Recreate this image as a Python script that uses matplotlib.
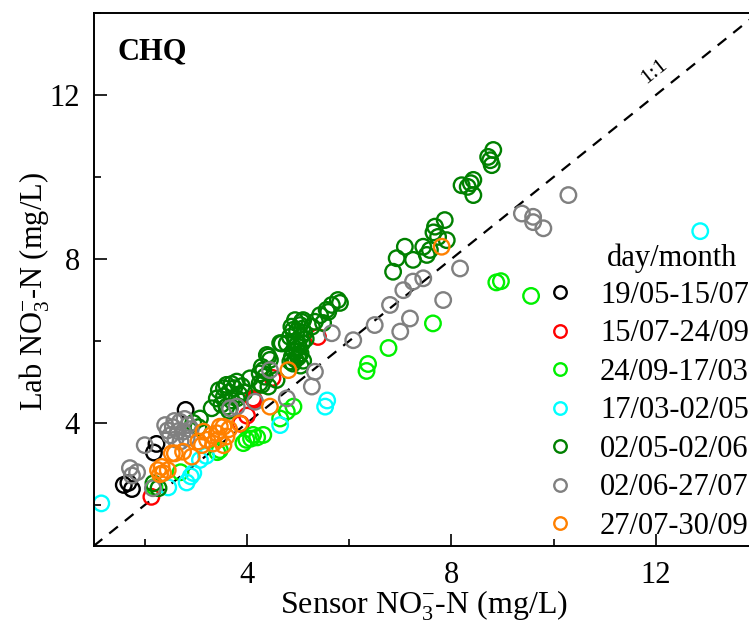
import matplotlib
matplotlib.use("Agg")
import matplotlib.pyplot as plt
from matplotlib.ticker import MultipleLocator
from matplotlib.lines import Line2D

plt.rcParams['font.family'] = ['Liberation Serif', 'DejaVu Serif']
plt.rcParams['mathtext.fontset'] = 'custom'
plt.rcParams['mathtext.rm'] = 'Liberation Serif'
plt.rcParams['mathtext.it'] = 'Liberation Serif:italic'
plt.rcParams['mathtext.bf'] = 'Liberation Serif:bold'

labels = ["19/05-15/07", "15/07-24/09", "24/09-17/03", "17/03-02/05",
          "02/05-02/06", "02/06-27/07", "27/07-30/09"]
colors = ["#000000", "#FF0000", "#00F000", "#00FFFF", "#008000", "#808080", "#FF8000"]

black_x = [2.80, 2.23, 2.18, 1.68, 1.75, 1.59]
black_y = [4.32, 3.49, 3.28, 2.54, 2.39, 2.49]

red_x = [2.13, 3.88, 4.00, 4.14, 4.50, 5.39, 4.12]
red_y = [2.20, 3.98, 4.18, 4.56, 5.10, 6.10, 4.60]

lime_x = [8.88, 8.97, 9.56, 7.64, 6.77, 6.37, 6.34, 4.91, 4.78, 4.65, 4.32, 4.12,
          3.99, 3.93, 4.08, 3.42, 2.70, 2.19, 3.47, 4.20]
lime_y = [7.43, 7.46, 7.10, 6.43, 5.83, 5.44, 5.27, 4.40, 4.28, 4.11, 3.71, 3.71,
          3.59, 3.51, 3.62, 3.29, 2.80, 2.44, 3.34, 3.65]

cyan_x = [12.87, 1.15, 2.46, 2.82, 2.90, 2.95, 3.08, 3.20, 4.65, 5.53, 5.57]
cyan_y = [8.68, 2.04, 2.43, 2.55, 2.70, 2.78, 3.10, 3.20, 3.95, 4.40, 4.55]

dgreen_x = [8.82, 8.76, 8.72, 8.79, 8.20, 8.43, 8.43, 8.32, 8.38,
            7.87, 7.68, 7.91, 7.74, 7.45, 7.58, 7.52, 7.25, 7.09, 6.93, 6.86, 7.65,
            5.78, 5.66, 5.56, 5.43, 5.33, 5.07, 4.94, 4.87, 5.82, 5.59, 5.49, 5.27,
            5.10, 5.04, 4.90, 4.84, 4.78, 4.68, 4.42, 4.29, 4.35, 4.29, 4.42, 4.65, 4.39,
            4.90, 4.95, 5.00, 5.05, 4.92, 5.02, 5.08, 4.95, 5.05, 5.12, 4.98, 5.05,
            5.10, 4.88, 5.00, 5.15, 4.97, 5.08, 4.85, 5.02,
            3.41, 3.60, 3.80, 4.06, 4.25, 3.31, 3.08, 3.50, 3.55, 3.65, 3.70, 3.75,
            3.85, 3.60, 3.45, 3.90, 3.95, 3.70, 3.55, 3.80, 3.65,
            2.17, 2.27, 2.95, 3.05, 4.32, 4.45, 4.25, 4.58]
dgreen_y = [10.66, 10.41, 10.49, 10.29, 9.80, 9.93, 9.56, 9.76, 9.85,
            8.95, 8.79, 8.46, 8.54, 8.30, 8.22, 8.10, 7.98, 8.30, 8.02, 7.69, 8.65,
            7.00, 6.88, 6.76, 6.63, 6.47, 6.47, 6.51, 6.35, 6.93, 6.71, 6.44, 6.35,
            6.51, 6.39, 6.27, 6.10, 5.94, 5.94, 5.62, 5.37, 5.13, 4.93, 4.89, 5.95, 5.66,
            5.45, 5.55, 5.60, 5.70, 5.75, 5.85, 5.95, 6.00, 6.10, 6.20, 6.25, 5.40,
            5.52, 5.62, 5.95, 6.05, 5.80, 6.30, 5.50, 5.65,
            4.60, 4.93, 5.01, 5.09, 5.21, 4.36, 4.11, 4.45, 4.65, 4.75, 4.55, 4.85,
            4.70, 4.40, 4.80, 4.90, 4.75, 4.95, 4.85, 4.60, 4.30,
            2.53, 2.41, 4.00, 3.90, 5.29, 5.54, 4.97, 5.05]

grey_x = [10.29, 9.38, 9.60, 9.60, 9.80, 8.17, 7.84, 7.45, 7.25, 7.06, 6.80, 7.19,
          7.00, 6.50, 6.08, 5.66, 5.33, 5.27, 4.78, 4.45, 4.16, 3.67, 3.80,
          2.00, 1.71, 1.85, 1.75, 2.16,
          2.40, 2.55, 2.65, 2.75, 2.82, 2.50, 2.69, 2.85, 2.60, 2.70, 2.45, 2.90,
          2.78, 2.58]
grey_y = [9.56, 9.11, 9.03, 8.90, 8.75, 7.77, 7.00, 7.53, 7.45, 7.24, 6.88, 6.55,
          6.23, 6.39, 6.02, 6.19, 5.25, 4.89, 4.60, 5.29, 4.52, 4.36, 4.40,
          3.46, 2.90, 2.80, 2.72, 2.41,
          3.95, 3.90, 3.80, 3.79, 3.63, 3.70, 4.03, 3.95, 3.60, 3.55, 3.82, 3.85,
          4.10, 4.05]

orange_x = [7.81, 4.81, 4.45, 3.86, 3.54, 3.41, 3.15, 3.22, 3.12, 3.54, 2.92, 2.53,
            2.33, 2.26, 2.45, 2.36, 3.30, 3.45, 3.05, 3.65, 2.30, 3.47, 3.60, 3.34,
            2.75, 2.59]
orange_y = [8.30, 5.29, 4.40, 3.99, 3.91, 3.75, 3.79, 3.59, 3.46, 3.46, 3.18, 3.26,
            2.93, 2.85, 2.85, 2.78, 3.70, 3.60, 3.55, 3.85, 2.75, 3.91, 3.67, 3.50,
            3.30, 3.26]

series_x = [black_x, red_x, lime_x, cyan_x, dgreen_x, grey_x, orange_x]
series_y = [black_y, red_y, lime_y, cyan_y, dgreen_y, grey_y, orange_y]

fig = plt.figure(figsize=(7.49, 6.30), dpi=100)
ax = fig.add_axes([0.125, 0.1333, 0.887, 0.846])

ax.plot([1, 14], [1, 14], color='black', lw=1.6, linestyle=(0, (5, 4)), zorder=1)

for xs, ys, c in zip(series_x, series_y, colors):
    ax.scatter(xs, ys, s=125, facecolors='none', edgecolors=c, linewidths=1.7, zorder=2)

ax.set_xlim(1, 14)
ax.set_ylim(1, 14)
ax.xaxis.set_major_locator(MultipleLocator(4))
ax.yaxis.set_major_locator(MultipleLocator(4))
ax.xaxis.set_minor_locator(MultipleLocator(2))
ax.yaxis.set_minor_locator(MultipleLocator(2))
ax.tick_params(which='major', direction='in', length=9, width=1.2, labelsize=22)
ax.tick_params(which='minor', direction='in', length=5, width=1.2)
ax.tick_params(axis='x', which='major', pad=11)
ax.tick_params(axis='y', which='major', pad=10)
for sp in ax.spines.values():
    sp.set_linewidth(1.4)

ax.set_xlabel('Sensor NO$_3^{-}$-N (mg/L)', fontsize=23)
ax.set_ylabel('Lab NO$_3^{-}$-N (mg/L)', fontsize=22)
ax.xaxis.set_label_coords(0.497, -0.112)
ax.xaxis.label.set_va('center')
ax.yaxis.set_label_coords(-0.089, 0.477)
ax.yaxis.label.set_va('center')

ax.text(1.46, 13.05, 'CHQ', fontsize=22, fontweight='bold', va='center', ha='left')
ax.text(11.98, 12.56, '1:1', fontsize=16, rotation=38.7, ha='center', va='center',
        rotation_mode='anchor')

handles = [Line2D([], [], marker='o', linestyle='none', markersize=9,
                  markerfacecolor='none', markeredgecolor=c, markeredgewidth=1.7)
           for c in colors]
leg = ax.legend(handles, labels, loc='upper left', bbox_to_anchor=(548 / 749, 1 - 281 / 630),
                bbox_transform=fig.transFigure, frameon=False, fontsize=22,
                handlelength=0.8, handletextpad=0.9, labelspacing=0.31, borderpad=0,
                borderaxespad=0)
fig.text(672 / 749, 1 - 258 / 630, 'day/month', fontsize=22, ha='center', va='center')

fig.savefig('out.png', dpi=100)
